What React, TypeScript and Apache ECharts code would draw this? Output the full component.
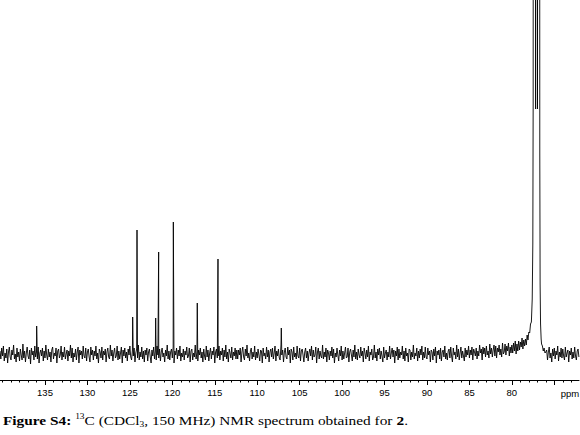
import React, { useEffect, useRef } from "react";
import * as echarts from "echarts";

// x-axis range (ppm), drawn reversed
const ppmMin = 72.09;
const ppmMax = 140.3;

const labelTicks = [80, 85, 90, 95, 100, 105, 110, 115, 120, 125, 130, 135];
const majorTicks = [75, 80, 85, 90, 95, 100, 105, 110, 115, 120, 125, 130, 135];
const minorTicks = [
  73, 74, 76, 77, 78, 79, 81, 82, 83, 84, 86, 87, 88, 89, 91, 92, 93, 94, 96, 97, 98, 99,
  101, 102, 103, 104, 106, 107, 108, 109, 111, 112, 113, 114, 116, 117, 118, 119,
  121, 122, 123, 124, 126, 127, 128, 129, 131, 132, 133, 134, 136, 137, 138, 139, 140,
];

// sharp compound signals
const peakPpm = [135.98, 124.67, 124.16, 121.96, 121.61, 119.88, 117.06, 114.62, 107.16];
const peakHeight = [28, 37, 124, 36, 102, 132, 51, 95, 26];

// CDCl3 triplet (goes far off scale)
const solventPpm = [77.7, 77.6, 77.53, 77.49, 77.44, 77.32, 77.2, 77.09, 76.98, 76.87, 76.76, 76.71, 76.67, 76.62, 76.55, 76.5];
const solventHeight = [32, 55, 110, 250, 2000, 2000, 245, 2000, 245, 2000, 2000, 200, 70, 30, 15, 10];

// baseline readings, one every 0.1 ppm from 140.3 ppm downward
const noiseStart = 140.3;
const noiseStep = 0.1;
const noise: (number | null)[] = [
  3, -5, 6, -2, 8, -7, 1, -4, 5, -9, 2, 7, -3, -6, 4, -1, 9, -5, 0, -8,
  6, -3, 2, -7, 5, -1, -6, 10, -4, 3, -8, 1, 7, -2, -5, 4, -10, 6, -1, 3,
  -6, 8, -3, 2, -5, 7, -9, 1, 4, -2, 6, -7, 3, -4, 9, -1, -6, 5, -3, 2,
  -8, 4, 7, -5, 1, -2, 6, -9, 3, 5, -4, -1, 8, -6, 2, -3, 7, -5, 0, 4,
  -7, 3, -2, 9, -4, 6, -8, 1, -3, 5, -6, 2, 7, -9, 4, -1, 3, -5, 8, -2,
  -4, 6, -7, 2, 5, -3, -8, 7, -1, 4, -6, 3, -2, 8, -5, 1, -9, 5, 2, -4,
  7, -6, 3, -1, 5, -8, 2, 6, -3, -5, 9, -2, 4, -7, 1, 6, -4, -2, 8, -6,
  3, -5, 1, 7, -9, 4, -2, 6, -4, 2, -7, 5, -1, 8, -3, -6, 4, -2, 6, -8,
  1, 5, -4, 9, -6, 2, -3, 7, -5, 3, -8, 4, -1, 6, -7, 2, 5, -3, -9, 4,
  -2, 7, -5, 3, -6, 8, -1, -4, 5, -7, 2, 6, -3, 1, -8, 4, -2, 9, -5, 3,
  -6, 2, 5, -4, 7, -9, 3, -1, 6, -5, 4, -2, 8, -7, 1, -3, 5, -6, 3, -1,
  7, -4, -2, 6, -8, 3, 5, -6, 1, -3, 9, -5, 2, -7, 4, -1, 6, -4, 2, -8,
  5, -2, -6, 8, -3, 4, -7, 1, 6, -5, 3, -1, 7, -9, 2, 5, -4, -2, 8, -6,
  3, -1, 6, -7, 4, -3, 9, -5, 2, -8, 5, 1, -4, 7, -6, 2, -2, 6, -5, 4,
  -5, 4, -1, 6, -8, 2, 7, -3, -6, 5, -2, 9, -4, 1, -7, 3, 6, -5, 2, -3,
  8, -6, 2, -4, 5, -1, -7, 4, 3, -9, 6, -2, 1, -5, 7, -3, 4, -8, 2, 5,
  -3, 6, -5, 1, 8, -7, 3, -2, 5, -4, -6, 9, -1, 4, -8, 2, 6, -3, -5, 7,
  -1, 4, -9, 5, 2, -6, 7, -3, 1, -5, 8, -2, -4, 6, -7, 3, 5, -1, -8, 2,
  6, -4, 3, -7, 1, 5, -2, 8, -6, 4, -3, -1, 7, -9, 2, 6, -5, 3, -2, -4,
  9, -5, 2, -3, 6, -8, 4, 1, -6, 3, -2, 7, -4, 5, -9, 1, -3, 6, -1, -7,
  4, -2, 8, -6, 3, -5, 1, 7, -4, -3, 6, -8, 2, 5, -1, -7, 4, -3, 9, -5,
  2, -6, 5, -1, -4, 7, -2, 3, -8, 6, 1, -5, 4, -3, 8, -7, 2, -1, 5, -6,
  -3, 9, -4, 2, -7, 5, -1, 6, -5, 3, -2, -8, 7, -4, 1, 4, -6, 2, -3, 8,
  -5, 1, 6, -3, 4, -9, 3, -2, 7, -6, 5, -4, 2, -1, 8, -5, 3, -7, 6, -2,
  1, -8, 5, 4, -6, 2, -3, 9, -5, 1, -2, 6, -7, 3, -4, 5, -1, 8, -6, 2,
  -4, 7, -3, -5, 6, -1, 3, -8, 4, 2, -6, 5, -2, 7, -9, 3, -1, 4, -5, 6,
  -7, 2, 4, -3, 8, -5, 1, -6, 3, 5, -4, 7, -2, -8, 6, -1, 2, -5, 9, -3,
  5, -6, 1, 7, -4, 3, -2, -7, 6, -3, 4, -1, 8,
  // rising solvent wing (85 -> 77.8 ppm)
  -4, 4, -1, 7, -6, 5, 2, -2, 6, -5, 3,
  -2, 9, 1, 5, -6, 7, 0, 6, -3, 8,
  -1, 3, -4, 10, 0, 6, -3, 4, 9, -2,
  8, -4, 6, 2, 9, -1, 5, -3, 11, 0,
  2, 10, -1, 8, 3, 11, -2, 7, 1, 9,
  1, 11, 3, 13, 0,
  10, 3, 13, 4, 12,
  7, 16, 5, 14, 8,
  15, 9, 19, 14, 22, 21, 30,
  // solvent core (see solvent arrays)
  null, null, null, null, null, null, null, null, null, null, null, null, null,
  8, 3, 6, 1, 2,
  4, -6, 2, 7, -4, 1, -8, 5, -2, 6, -5, 3, -1, 8, -7, 2, -3, 6, -4, 5,
  -2, -6, 7, -3, 1, 4, -8, 3, -1, 6, -5, 2, -4, 7, -2, -6, 3, 5, -3,
];

const SERIF = '"Liberation Serif", "Times New Roman", Times, serif';
const SANS = '"Liberation Sans", Arial, Helvetica, sans-serif';

function buildData(): [number, number][] {
  const pts: [number, number][] = [];
  noise.forEach((v, i) => {
    if (v !== null) pts.push([+(noiseStart - i * noiseStep).toFixed(2), v]);
  });
  peakPpm.forEach((p, i) => pts.push([p, peakHeight[i]]));
  solventPpm.forEach((p, i) => pts.push([p, solventHeight[i]]));
  pts.sort((a, b) => b[0] - a[0]);
  return pts;
}

export default function App() {
  const ref = useRef<HTMLDivElement>(null);
  useEffect(() => {
    if (!ref.current) return;
    const chart = echarts.init(ref.current, undefined, { renderer: "svg" });
    const axisBase = {
      type: "value" as const,
      min: ppmMin,
      max: ppmMax,
      inverse: true,
      position: "bottom" as const,
      splitLine: { show: false },
      gridIndex: 0,
    };
    chart.setOption({
      animation: false,
      backgroundColor: "#fff",
      grid: { left: 0, right: 1, top: 0, bottom: 55, containLabel: false },
      xAxis: [
        {
          ...axisBase,
          axisLine: { show: true, onZero: false, lineStyle: { color: "#000", width: 1 } },
          axisTick: { show: true, customValues: majorTicks, length: 5, lineStyle: { color: "#000", width: 1 } },
          axisLabel: {
            show: true,
            customValues: labelTicks,
            color: "#000",
            fontSize: 9.5,
            fontFamily: SANS,
            margin: 7,
          },
        },
        {
          ...axisBase,
          axisLine: { show: false, onZero: false },
          axisTick: { show: true, customValues: minorTicks, length: 2.5, lineStyle: { color: "#000", width: 1 } },
          axisLabel: { show: false },
        },
      ],
      yAxis: { type: "value", min: -26, max: 354, show: false, splitLine: { show: false } },
      series: [
        {
          type: "line",
          xAxisIndex: 0,
          data: buildData(),
          symbol: "none",
          showSymbol: false,
          clip: true,
          lineStyle: { color: "#000", width: 0.9 },
          emphasis: { disabled: true },
        },
      ],
      graphic: [
        {
          type: "text",
          x: 570,
          y: 393,
          style: {
            text: "ppm",
            fontSize: 9.5,
            fontFamily: SANS,
            fill: "#000",
            align: "center",
            verticalAlign: "middle",
          },
        },
        {
          type: "text",
          x: 3,
          y: 420,
          scaleX: 1.18,
          style: {
            text: "{b|Figure S4:} {sup|13}C (CDCl{sub|3}, 150 MHz) NMR spectrum obtained for {b|2}.",
            fontSize: 13,
            fontFamily: SERIF,
            lineHeight: 16,
            fill: "#000",
            align: "left",
            verticalAlign: "middle",
            rich: {
              b: { fontWeight: "bold", fontSize: 13, fontFamily: SERIF, lineHeight: 16, fill: "#000" },
              sup: { fontSize: 8, fontFamily: SERIF, lineHeight: 8, verticalAlign: "top", fill: "#000" },
              sub: { fontSize: 8, fontFamily: SERIF, lineHeight: 10, verticalAlign: "bottom", fill: "#000" },
            },
          },
        },
      ],
    });
    return () => chart.dispose();
  }, []);
  return (
    <div
      ref={ref}
      style={{ position: "absolute", left: 0, top: 0, width: 580, height: 435, background: "#fff" }}
    />
  );
}
